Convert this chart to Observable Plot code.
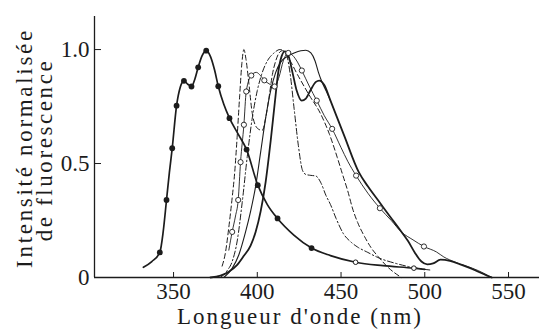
<!DOCTYPE html>
<html>
<head>
<meta charset="utf-8">
<script src="https://cdn.jsdelivr.net/npm/d3@7"></script>
<script src="https://cdn.jsdelivr.net/npm/@observablehq/plot@0.6"></script>
<style>
  html, body { margin: 0; padding: 0; background: #fff; }
  #chart svg { display: block; }
</style>
</head>
<body>
<div id="chart"></div>
<script>
// ---- data (wavelength nm, normalised intensity) ----
const xDomain = [302.8, 568.5];
const yDomain = [0, 1.145];
const xTicks = [350, 400, 450, 500, 550];
const yTicks = [0.5, 1.0];
const yTickLabels = [0, 0.5, 1.0];
const xTitle = "Longueur d'onde (nm)";
const yTitle1 = "Intensité normalisée";
const yTitle2 = "de fluorescence";

// bold curve with filled dots (peak ~370 nm)
const curveA = [[332,0.045],[337,0.07],[341.8,0.11],[343.8,0.2],[345.8,0.34],[347.5,0.46],[349.2,0.567],[351.8,0.754],[354,0.835],[356.2,0.863],[358.5,0.848],[360.7,0.838],[362.7,0.87],[364.7,0.922],[367,0.972],[369.5,0.995],[372,0.97],[374.5,0.91],[376.7,0.839],[380,0.76],[383.4,0.699],[388.5,0.63],[393.6,0.561],[400.3,0.405],[406,0.32],[412.1,0.259],[422,0.185],[432.4,0.129],[443.7,0.096],[458.7,0.067],[475,0.052],[493.5,0.041],[500,0.036]];
const curveADots = [[341.8,0.11],[345.8,0.34],[349.2,0.567],[351.8,0.754],[356.2,0.863],[360.7,0.838],[364.7,0.922],[369.5,0.995],[376.7,0.839],[383.4,0.699],[393.6,0.561],[400.3,0.405],[412.1,0.259],[432.4,0.129]];
const curveAOpen = [[458.7,0.067],[493.5,0.041]];

// long-dashed curve (sharp peak ~392 nm)
const curveB = [[379,0.05],[381,0.11],[383,0.22],[385,0.35],[386.5,0.46],[388,0.62],[389.5,0.8],[390.8,0.94],[392,1.0],[393.2,0.96],[395,0.85],[397,0.72],[400,0.655],[403,0.645],[405,0.7],[407,0.79],[409,0.89],[411,0.95],[413,0.985],[415,0.995],[418,0.97],[424,0.89],[431,0.8],[437.8,0.718],[443,0.63],[447.7,0.528],[451,0.45],[454,0.38],[457,0.3],[460,0.24],[464,0.18],[468,0.13],[472.5,0.089],[478,0.045],[486,0]];

// thin curve with open circles
const curveC = [[383,0.12],[385,0.2],[387,0.27],[388.6,0.34],[390,0.506],[392,0.67],[393.4,0.816],[396.4,0.886],[399.4,0.9],[402,0.885],[404.2,0.865],[407,0.85],[410.3,0.838],[413,0.88],[415.5,0.95],[418.5,0.985],[421,0.975],[424,0.945],[426.6,0.908],[431,0.84],[435.5,0.776],[440,0.71],[444.7,0.652],[450,0.57],[454,0.51],[459,0.447],[466,0.37],[473.2,0.304],[480,0.25],[486,0.2],[493,0.165],[499.5,0.136],[507,0.112],[511.4,0.09],[518,0.068],[525,0.05],[532,0.03],[540,0]];
const curveCDots = [[385,0.2],[388.6,0.34],[390,0.506],[392,0.67],[393.4,0.816],[396.4,0.886],[404.2,0.865],[410.3,0.838],[418.5,0.985],[426.6,0.908],[435.5,0.776],[444.7,0.652],[459,0.447],[473.2,0.304],[499.5,0.136]];

// dash-dot curve (peak ~414 nm, shoulder ~432 nm)
const curveD = [[378,0],[382,0.03],[385,0.07],[388,0.16],[391,0.33],[394,0.53],[397,0.7],[400,0.82],[403,0.9],[406,0.95],[410,0.985],[413.5,1.0],[417,0.985],[419.5,0.9],[422,0.74],[424.5,0.58],[427,0.47],[429,0.452],[432,0.448],[435,0.445],[438,0.415],[441,0.36],[443.7,0.32],[447,0.26],[451.6,0.19],[456,0.155],[460,0.133],[466,0.11],[471.6,0.089],[483.6,0.06],[497.5,0.038],[503,0.033]];

// thin solid curve with rounded top (~428 nm)
const curveE = [[380,0],[385,0.04],[389,0.1],[393,0.2],[396,0.29],[399,0.4],[402,0.55],[405,0.7],[408,0.82],[411,0.9],[414,0.945],[418,0.97],[422,0.985],[426,0.995],[429,0.997],[432,0.985],[434.5,0.95],[436.5,0.9],[438.5,0.86],[441,0.82],[443.7,0.776]];

// bold curve with double peak (416 / 437 nm)
const curveF = [[372,0],[378,0.008],[383,0.025],[388,0.055],[392,0.095],[396,0.14],[399,0.2],[402,0.29],[405,0.42],[408,0.6],[410.5,0.77],[412.5,0.9],[414.5,0.97],[416.5,0.992],[418.5,0.975],[421,0.9],[423.5,0.82],[426.5,0.776],[429,0.785],[432,0.825],[435,0.858],[437,0.864],[440,0.845],[443.7,0.776],[452,0.62],[460.6,0.462],[466,0.4],[473,0.33],[479,0.27],[485.5,0.206],[490,0.16],[494,0.11],[498,0.07],[501.5,0.058],[505,0.062],[509.4,0.078],[515,0.073],[522,0.055],[530,0.032],[536,0.012],[540,0]];

const ink = "#1c1c1c";
const fontName = "Liberation Serif";
const px = d => d[0], py = d => d[1];
const curve = "monotone-x";

const chart = Plot.plot({
  width: 539,
  height: 331,
  marginLeft: 94,
  marginRight: 0,
  marginTop: 16,
  marginBottom: 54,
  x: {domain: xDomain},
  y: {domain: yDomain},
  style: {background: "#fff", color: ink},
  marks: [
    Plot.axisX(xTicks, {tickSize: 0, tickPadding: 5, fontSize: 23, fill: ink, label: null}),
    Plot.axisY(yTickLabels, {tickSize: 0, tickPadding: 5, fontSize: 23, fill: ink, label: null,
      tickFormat: d => d === 0 ? "0" : d.toFixed(1)}),
    Plot.tickX(xTicks, {x: d => d, insetTop: 256, stroke: ink, strokeWidth: 1}),
    Plot.tickY(yTicks, {y: d => d, insetRight: 438, stroke: ink, strokeWidth: 1}),
    Plot.ruleY([yDomain[0]], {stroke: ink, strokeWidth: 1.4}),
    Plot.ruleX([xDomain[0]], {stroke: ink, strokeWidth: 1.3}),

    Plot.line(curveE, {x: px, y: py, stroke: ink, strokeWidth: 1.1, curve}),
    Plot.line(curveD, {x: px, y: py, stroke: ink, strokeWidth: 1, strokeDasharray: "6,2.5,1.5,2.5", curve}),
    Plot.line(curveB, {x: px, y: py, stroke: ink, strokeWidth: 1, strokeDasharray: "5,3", curve}),
    Plot.line(curveC, {x: px, y: py, stroke: ink, strokeWidth: 0.9, curve}),
    Plot.line(curveF, {x: px, y: py, stroke: ink, strokeWidth: 1.8, curve}),
    Plot.line(curveA, {x: px, y: py, stroke: ink, strokeWidth: 1.7, curve}),

    Plot.dot(curveCDots, {x: px, y: py, r: 2.6, fill: "#fff", stroke: ink, strokeWidth: 0.9}),
    Plot.dot(curveAOpen, {x: px, y: py, r: 2.3, fill: "#fff", stroke: ink, strokeWidth: 1}),
    Plot.dot(curveADots, {x: px, y: py, r: 2.9, fill: ink, stroke: "none"})
  ]
});

document.getElementById("chart").appendChild(chart);

// axis titles
const svg = d3.select(chart);
svg.attr("font-family", fontName);
svg.append("text")
  .attr("x", 300).attr("y", 324)
  .attr("text-anchor", "middle")
  .attr("font-size", 23)
  .attr("letter-spacing", "2px")
  .attr("fill", ink)
  .text(xTitle);
svg.append("text")
  .attr("transform", "translate(32,148) rotate(-90)")
  .attr("text-anchor", "middle")
  .attr("font-size", 23)
  .attr("letter-spacing", "2.7px")
  .attr("fill", ink)
  .text(yTitle1);
svg.append("text")
  .attr("transform", "translate(52,150) rotate(-90)")
  .attr("text-anchor", "middle")
  .attr("font-size", 23)
  .attr("letter-spacing", "2.6px")
  .attr("fill", ink)
  .text(yTitle2);
svg.selectAll("text").attr("font-family", fontName).style("font-family", fontName);
</script>
</body>
</html>
